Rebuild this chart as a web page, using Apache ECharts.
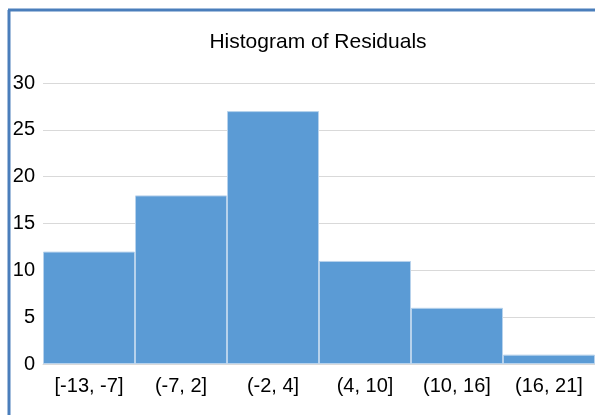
<!DOCTYPE html>
<html>
<head>
<meta charset="utf-8">
<script src="https://cdn.jsdelivr.net/npm/echarts@6/dist/echarts.min.js"></script>
<style>
html,body{margin:0;padding:0;background:#fff;}
#chart{width:595px;height:415px;}
</style>
</head>
<body>
<div id="chart"></div>
<script>
var titleText = "Histogram of Residuals";
var categories = ["[-13, -7]", "(-7, 2]", "(-2, 4]", "(4, 10]", "(10, 16]", "(16, 21]"];
var counts = [12, 18, 27, 11, 6, 1];
var yTicks = [0, 5, 10, 15, 20, 25, 30];

var chart = echarts.init(document.getElementById('chart'), null, {renderer: 'canvas'});
var font = 'Liberation Sans, Arial, Helvetica, sans-serif';
chart.setOption({
  animation: false,
  backgroundColor: '#ffffff',
  title: {
    text: titleText,
    left: 313, top: 27, textAlign: 'center',
    textStyle: {fontFamily: font, fontSize: 21, fontWeight: 'normal', color: '#000'}
  },
  grid: {left: 43, right: 0, top: 83, bottom: 51, containLabel: false},
  xAxis: {
    type: 'category',
    data: categories,
    axisLine: {show: true, lineStyle: {color: '#d9d9d9', width: 1}},
    axisTick: {show: false},
    axisLabel: {fontFamily: font, fontSize: 20, color: '#000', margin: 12, interval: 0}
  },
  yAxis: {
    type: 'value',
    min: yTicks[0], max: yTicks[yTicks.length - 1], interval: 5,
    axisLine: {show: false},
    axisTick: {show: false},
    splitLine: {lineStyle: {color: '#d9d9d9', width: 1}},
    axisLabel: {fontFamily: font, fontSize: 20, color: '#000', margin: 8}
  },
  series: [{
    type: 'bar',
    data: counts,
    barWidth: '100%',
    barCategoryGap: '0%',
    itemStyle: {color: '#5b9bd5', borderColor: '#b7d2ec', borderWidth: 1}
  }],
  graphic: [
    {type: 'line', shape: {x1: 9, y1: 10, x2: 9, y2: 415}, style: {stroke: '#4a7ebb', lineWidth: 3}},
    {type: 'line', shape: {x1: 8, y1: 10, x2: 595, y2: 10}, style: {stroke: '#4a7ebb', lineWidth: 3}}
  ]
});
</script>
</body>
</html>
